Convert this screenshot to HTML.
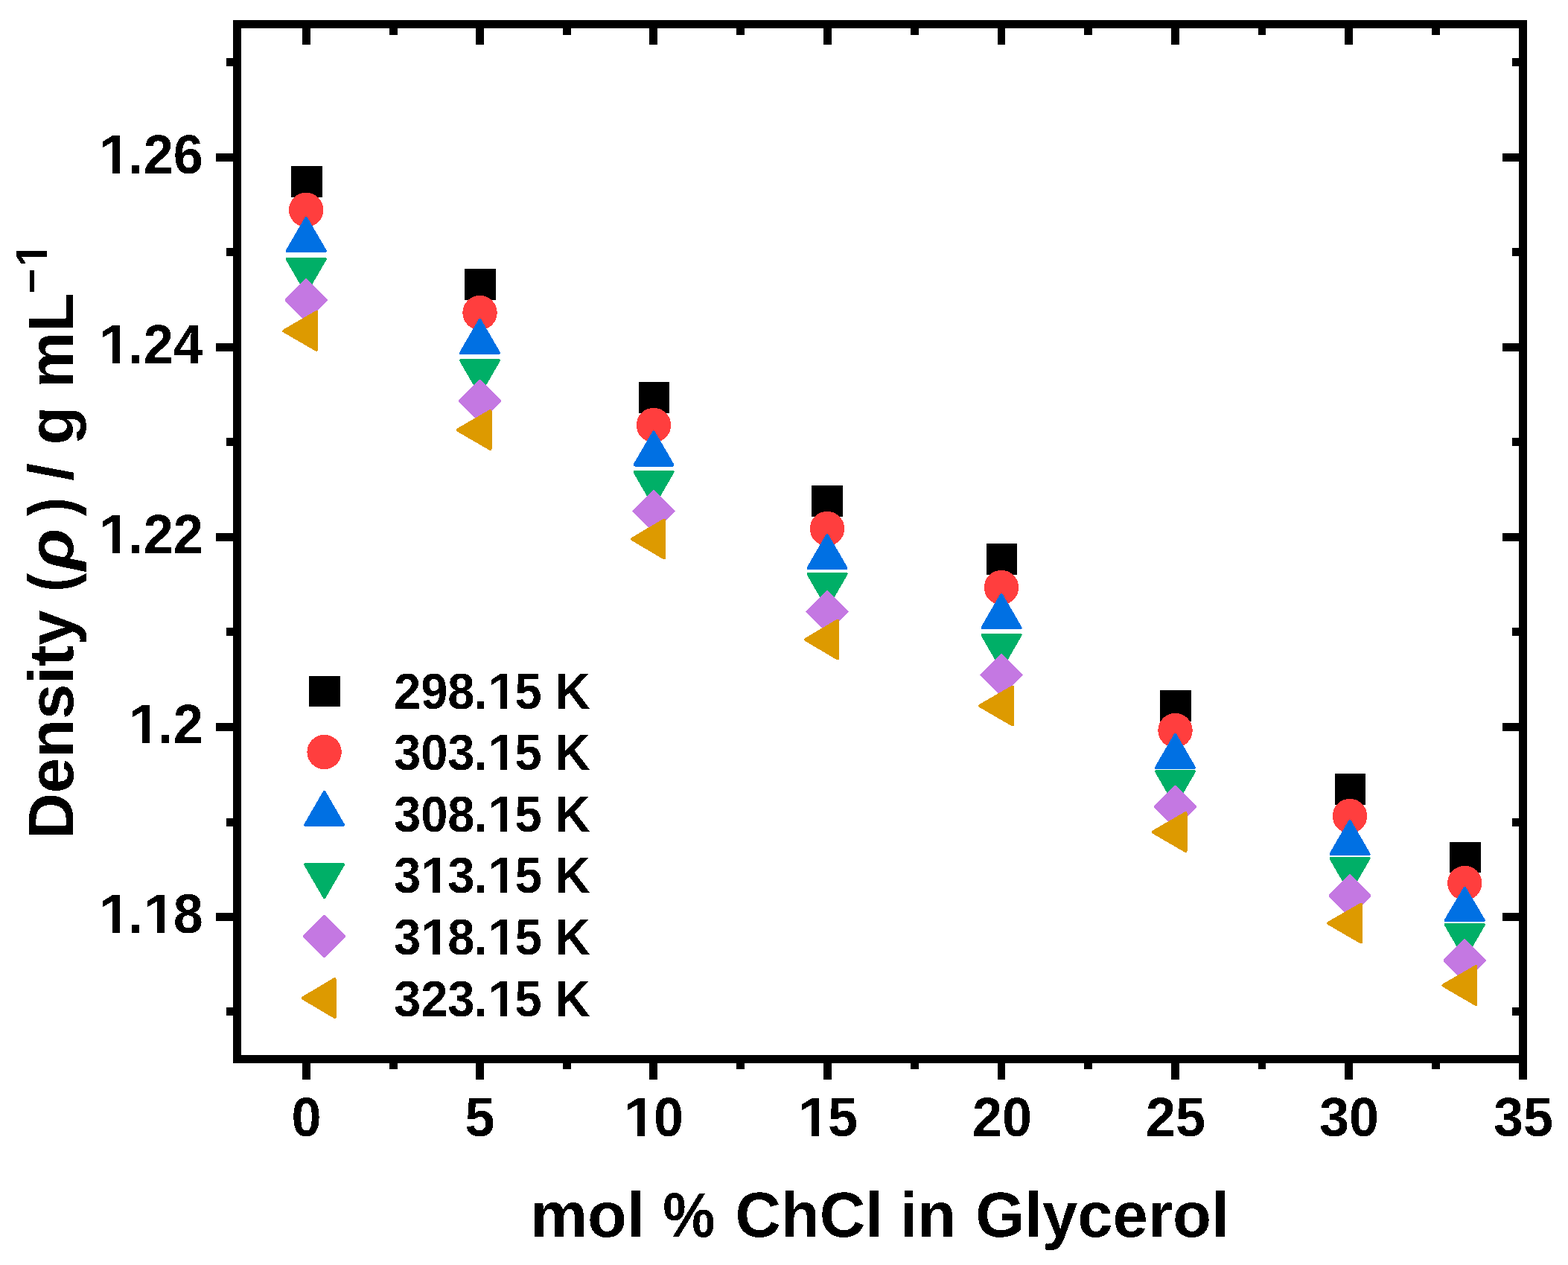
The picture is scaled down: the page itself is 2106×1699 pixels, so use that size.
<!DOCTYPE html>
<html lang="en"><head><meta charset="utf-8"><title>Density of ChCl in Glycerol mixtures</title>
<style>
html,body{margin:0;padding:0;background:#fff;}
body{width:2106px;height:1699px;overflow:hidden;}
svg{display:block;}
text{font-family:"Liberation Sans",sans-serif;font-weight:bold;fill:#000;white-space:pre;}
.tk{font-size:72px;}
.ti{font-size:85px;}
.lg{font-size:65px;}
.mk polygon{stroke-width:4;stroke-linejoin:round;}
.wm{fill:#fff;}
</style></head><body>
<svg width="2106" height="1699" viewBox="0 0 2106 1699" role="img" aria-label="Density versus mol % ChCl in Glycerol">
<rect x="0" y="0" width="2106" height="1699" fill="#fff"/>
<defs><filter id="bin" filterUnits="userSpaceOnUse" x="0" y="0" width="2106" height="1699" color-interpolation-filters="sRGB"><feComponentTransfer><feFuncR type="discrete" tableValues="0 1"/><feFuncG type="discrete" tableValues="0 1"/><feFuncB type="discrete" tableValues="0 1"/><feFuncA type="discrete" tableValues="0 1"/></feComponentTransfer></filter></defs>
<g id="markers" class="mk" shape-rendering="crispEdges">
<rect x="391" y="223" width="42" height="42" fill="#000000"/>
<rect x="624" y="361" width="42" height="42" fill="#000000"/>
<rect x="858" y="513" width="41" height="42" fill="#000000"/>
<rect x="1090" y="652" width="42" height="42" fill="#000000"/>
<rect x="1325" y="730" width="41" height="42" fill="#000000"/>
<rect x="1558" y="927" width="42" height="42" fill="#000000"/>
<rect x="1793" y="1039" width="41" height="42" fill="#000000"/>
<rect x="1947" y="1131" width="42" height="41" fill="#000000"/>
<circle cx="411.2" cy="281.8" r="23.2" fill="#FF3E3E"/>
<circle cx="644.5" cy="420" r="23.2" fill="#FF3E3E"/>
<circle cx="878" cy="571" r="23.2" fill="#FF3E3E"/>
<circle cx="1111" cy="710" r="23.2" fill="#FF3E3E"/>
<circle cx="1345" cy="789" r="23.2" fill="#FF3E3E"/>
<circle cx="1578.5" cy="981" r="23.2" fill="#FF3E3E"/>
<circle cx="1813" cy="1096" r="23.2" fill="#FF3E3E"/>
<circle cx="1967.3" cy="1186" r="23.2" fill="#FF3E3E"/>
<polygon points="411.2,293 436.7,337 385.7,337" fill="#0070E3" stroke="#0070E3"/>
<polygon points="644.5,430 670,474 619,474" fill="#0070E3" stroke="#0070E3"/>
<polygon points="878,580.5 903.5,624.5 852.5,624.5" fill="#0070E3" stroke="#0070E3"/>
<polygon points="1111,719 1136.5,763 1085.5,763" fill="#0070E3" stroke="#0070E3"/>
<polygon points="1345,799 1370.5,843 1319.5,843" fill="#0070E3" stroke="#0070E3"/>
<polygon points="1578.5,987 1604,1031 1553,1031" fill="#0070E3" stroke="#0070E3"/>
<polygon points="1813,1103 1838.5,1147 1787.5,1147" fill="#0070E3" stroke="#0070E3"/>
<polygon points="1967.3,1193 1992.8,1236 1941.8,1236" fill="#0070E3" stroke="#0070E3"/>
<polygon points="411.2,392 436.7,348 385.7,348" fill="#00AF67" stroke="#00AF67"/>
<polygon points="644.5,528 670,484 619,484" fill="#00AF67" stroke="#00AF67"/>
<polygon points="878,678 903.5,634 852.5,634" fill="#00AF67" stroke="#00AF67"/>
<polygon points="1111,815 1136.5,771 1085.5,771" fill="#00AF67" stroke="#00AF67"/>
<polygon points="1345,897 1370.5,853 1319.5,853" fill="#00AF67" stroke="#00AF67"/>
<polygon points="1578.5,1080 1604,1036 1553,1036" fill="#00AF67" stroke="#00AF67"/>
<polygon points="1813,1197 1838.5,1153 1787.5,1153" fill="#00AF67" stroke="#00AF67"/>
<polygon points="1967.3,1286 1992.8,1242 1941.8,1242" fill="#00AF67" stroke="#00AF67"/>
<polygon points="384.6,403 411.2,429.6 437.8,403 411.2,376.4" fill="#C478E2" stroke="#C478E2"/>
<polygon points="617.9,538.5 644.5,565.1 671.1,538.5 644.5,511.9" fill="#C478E2" stroke="#C478E2"/>
<polygon points="851.4,686.5 878,713.1 904.6,686.5 878,659.9" fill="#C478E2" stroke="#C478E2"/>
<polygon points="1084.4,821.5 1111,848.1 1137.6,821.5 1111,794.9" fill="#C478E2" stroke="#C478E2"/>
<polygon points="1318.4,906.5 1345,933.1 1371.6,906.5 1345,879.9" fill="#C478E2" stroke="#C478E2"/>
<polygon points="1551.9,1083.5 1578.5,1110.1 1605.1,1083.5 1578.5,1056.9" fill="#C478E2" stroke="#C478E2"/>
<polygon points="1786.4,1203 1813,1229.6 1839.6,1203 1813,1176.4" fill="#C478E2" stroke="#C478E2"/>
<polygon points="1940.7,1290 1967.3,1316.6 1993.9,1290 1967.3,1263.4" fill="#C478E2" stroke="#C478E2"/>
<polygon points="381.2,444.5 425.2,470 425.2,419" fill="#DD9A00" stroke="#DD9A00"/>
<polygon points="614.5,577.5 658.5,603 658.5,552" fill="#DD9A00" stroke="#DD9A00"/>
<polygon points="849,724 892,749.5 892,698.5" fill="#DD9A00" stroke="#DD9A00"/>
<polygon points="1082,859 1125,884.5 1125,833.5" fill="#DD9A00" stroke="#DD9A00"/>
<polygon points="1316,948 1360,973.5 1360,922.5" fill="#DD9A00" stroke="#DD9A00"/>
<polygon points="1548.5,1117.5 1592.5,1143 1592.5,1092" fill="#DD9A00" stroke="#DD9A00"/>
<polygon points="1784,1240 1828,1265.5 1828,1214.5" fill="#DD9A00" stroke="#DD9A00"/>
<polygon points="1938.3,1323.5 1982.3,1349 1982.3,1298" fill="#DD9A00" stroke="#DD9A00"/>
</g>
<g id="axes" fill="#000" shape-rendering="crispEdges">
<rect x="313" y="27" width="1738" height="11"/>
<rect x="313" y="1417" width="1738" height="11"/>
<rect x="313" y="27" width="11" height="1401"/>
<rect x="2040" y="27" width="11" height="1423"/>
<rect x="406" y="1428" width="11" height="22"/>
<rect x="406" y="38" width="11" height="22"/>
<rect x="523" y="1428" width="11" height="8"/>
<rect x="523" y="38" width="11" height="9"/>
<rect x="639" y="1428" width="11" height="22"/>
<rect x="639" y="38" width="11" height="22"/>
<rect x="756" y="1428" width="11" height="8"/>
<rect x="756" y="38" width="11" height="9"/>
<rect x="872" y="1428" width="11" height="22"/>
<rect x="872" y="38" width="11" height="22"/>
<rect x="989" y="1428" width="11" height="8"/>
<rect x="989" y="38" width="11" height="9"/>
<rect x="1106" y="1428" width="11" height="22"/>
<rect x="1106" y="38" width="11" height="22"/>
<rect x="1223" y="1428" width="11" height="8"/>
<rect x="1223" y="38" width="11" height="9"/>
<rect x="1340" y="1428" width="10" height="22"/>
<rect x="1340" y="38" width="10" height="22"/>
<rect x="1456" y="1428" width="11" height="8"/>
<rect x="1456" y="38" width="11" height="9"/>
<rect x="1573" y="1428" width="11" height="22"/>
<rect x="1573" y="38" width="11" height="22"/>
<rect x="1690" y="1428" width="10" height="8"/>
<rect x="1690" y="38" width="10" height="9"/>
<rect x="1806" y="1428" width="11" height="22"/>
<rect x="1806" y="38" width="11" height="22"/>
<rect x="1923" y="1428" width="11" height="8"/>
<rect x="1923" y="38" width="11" height="9"/>
<rect x="304" y="78" width="9" height="11"/>
<rect x="2031" y="78" width="9" height="11"/>
<rect x="290" y="206" width="23" height="11"/>
<rect x="2018" y="206" width="22" height="11"/>
<rect x="304" y="333" width="9" height="11"/>
<rect x="2031" y="333" width="9" height="11"/>
<rect x="290" y="461" width="23" height="11"/>
<rect x="2018" y="461" width="22" height="11"/>
<rect x="304" y="588" width="9" height="11"/>
<rect x="2031" y="588" width="9" height="11"/>
<rect x="290" y="716" width="23" height="11"/>
<rect x="2018" y="716" width="22" height="11"/>
<rect x="304" y="843" width="9" height="11"/>
<rect x="2031" y="843" width="9" height="11"/>
<rect x="290" y="971" width="23" height="11"/>
<rect x="2018" y="971" width="22" height="11"/>
<rect x="304" y="1099" width="9" height="11"/>
<rect x="2031" y="1099" width="9" height="11"/>
<rect x="290" y="1226" width="23" height="11"/>
<rect x="2018" y="1226" width="22" height="11"/>
<rect x="304" y="1353" width="9" height="11"/>
<rect x="2031" y="1353" width="9" height="11"/>
</g>
<g id="labels" filter="url(#bin)">
<g id="xticklabels">
<text class="tk" transform="translate(391.48,1526) scale(1,1.042)">0</text>
<text class="tk" transform="translate(624.48,1526) scale(1,1.042)">5</text>
<text class="tk" transform="translate(837.96,1526) scale(1,1.042)"><tspan textLength="42.45" lengthAdjust="spacingAndGlyphs">1</tspan><tspan dx="-2.4">0</tspan></text>
<text class="tk" transform="translate(1071.96,1526) scale(1,1.042)"><tspan textLength="42.45" lengthAdjust="spacingAndGlyphs">1</tspan><tspan dx="-2.4">5</tspan></text>
<text class="tk" transform="translate(1305.96,1526) scale(1,1.042)">20</text>
<text class="tk" transform="translate(1538.96,1526) scale(1,1.042)">25</text>
<text class="tk" transform="translate(1771.96,1526) scale(1,1.042)">30</text>
<text class="tk" transform="translate(2005.96,1526) scale(1,1.042)">35</text>
</g>
<g id="yticklabels">
<text class="tk" transform="translate(132.67,233) scale(1,1.042)"><tspan textLength="42.45" lengthAdjust="spacingAndGlyphs">1</tspan><tspan dx="-3.3">.</tspan><tspan dx="0.9">2</tspan>6</text>
<text class="tk" transform="translate(132.67,488) scale(1,1.042)"><tspan textLength="42.45" lengthAdjust="spacingAndGlyphs">1</tspan><tspan dx="-3.3">.</tspan><tspan dx="0.9">2</tspan>4</text>
<text class="tk" transform="translate(132.67,743) scale(1,1.042)"><tspan textLength="42.45" lengthAdjust="spacingAndGlyphs">1</tspan><tspan dx="-3.3">.</tspan><tspan dx="0.9">2</tspan>2</text>
<text class="tk" transform="translate(172.71,998) scale(1,1.042)"><tspan textLength="42.45" lengthAdjust="spacingAndGlyphs">1</tspan><tspan dx="-3.3">.</tspan><tspan dx="0.9">2</tspan></text>
<text class="tk" transform="translate(132.67,1253) scale(1,1.042)"><tspan textLength="42.45" lengthAdjust="spacingAndGlyphs">1</tspan><tspan dx="-3.3">.</tspan><tspan dx="0.9" textLength="42.45" lengthAdjust="spacingAndGlyphs">1</tspan><tspan dx="-2.4">8</tspan></text>
</g>
<text class="ti" y="1661"><tspan x="712.17" textLength="153.68" lengthAdjust="spacingAndGlyphs">mol</tspan><tspan> </tspan><tspan x="890.31" textLength="70.29" lengthAdjust="spacingAndGlyphs">%</tspan><tspan> </tspan><tspan x="987.41">ChCl </tspan><tspan x="1208.66">in </tspan><tspan x="1310.33">Glycerol</tspan></text>
<g transform="translate(98,0) rotate(-90)"><text class="ti"><tspan x="-1126.59" y="0">Density </tspan><tspan x="-794.73" y="0" textLength="24.91" lengthAdjust="spacingAndGlyphs">(</tspan><tspan x="-765.91" y="0" font-style="italic" textLength="56.1" lengthAdjust="spacingAndGlyphs">ρ</tspan><tspan x="-693.08" y="0" textLength="24.91" lengthAdjust="spacingAndGlyphs">)</tspan><tspan x="-660" y="0"> </tspan><tspan x="-645.71" y="0">/ </tspan><tspan x="-597.61" y="0">g </tspan><tspan x="-521.39" y="0">mL</tspan><tspan x="-394.69" y="-35.2" font-size="59">−</tspan><tspan x="-358.57" y="-35.2" font-size="59">1</tspan></text></g>
<g id="legend">
<text class="lg" transform="translate(529,952) scale(1,1.042)">298<tspan dx="-0.9">.</tspan><tspan dx="0.9" textLength="38.32" lengthAdjust="spacingAndGlyphs">1</tspan><tspan dx="-2.17">5</tspan> K</text>
<text class="lg" transform="translate(529,1034) scale(1,1.042)">303<tspan dx="-0.9">.</tspan><tspan dx="0.9" textLength="38.32" lengthAdjust="spacingAndGlyphs">1</tspan><tspan dx="-2.17">5</tspan> K</text>
<text class="lg" transform="translate(529,1117) scale(1,1.042)">308<tspan dx="-0.9">.</tspan><tspan dx="0.9" textLength="38.32" lengthAdjust="spacingAndGlyphs">1</tspan><tspan dx="-2.17">5</tspan> K</text>
<text class="lg" transform="translate(529,1199) scale(1,1.042)">3<tspan textLength="38.32" lengthAdjust="spacingAndGlyphs">1</tspan><tspan dx="-2.17">3</tspan><tspan dx="-0.9">.</tspan><tspan dx="0.9" textLength="38.32" lengthAdjust="spacingAndGlyphs">1</tspan><tspan dx="-2.17">5</tspan> K</text>
<text class="lg" transform="translate(529,1282) scale(1,1.042)">3<tspan textLength="38.32" lengthAdjust="spacingAndGlyphs">1</tspan><tspan dx="-2.17">8</tspan><tspan dx="-0.9">.</tspan><tspan dx="0.9" textLength="38.32" lengthAdjust="spacingAndGlyphs">1</tspan><tspan dx="-2.17">5</tspan> K</text>
<text class="lg" transform="translate(529,1365) scale(1,1.042)">323<tspan dx="-0.9">.</tspan><tspan dx="0.9" textLength="38.32" lengthAdjust="spacingAndGlyphs">1</tspan><tspan dx="-2.17">5</tspan> K</text>
</g>
<g class="wm" shape-rendering="crispEdges"><rect x="840" y="1516" width="16" height="12"/><rect x="866" y="1516" width="15" height="12"/><rect x="1074" y="1516" width="16" height="12"/><rect x="1100" y="1516" width="15" height="12"/><rect x="135" y="223" width="16" height="12"/><rect x="161" y="223" width="14" height="12"/><rect x="135" y="478" width="16" height="12"/><rect x="161" y="478" width="14" height="12"/><rect x="135" y="733" width="16" height="12"/><rect x="161" y="733" width="14" height="12"/><rect x="175" y="988" width="16" height="12"/><rect x="201" y="988" width="15" height="12"/><rect x="135" y="1243" width="16" height="12"/><rect x="161" y="1243" width="14" height="12"/><rect x="195" y="1243" width="16" height="12"/><rect x="221" y="1243" width="15" height="12"/><rect x="54" y="325" width="11" height="12"/><rect x="54" y="345" width="11" height="12"/><rect x="657" y="943" width="15" height="11"/><rect x="681" y="943" width="13" height="11"/><rect x="657" y="1025" width="15" height="11"/><rect x="681" y="1025" width="13" height="11"/><rect x="657" y="1108" width="15" height="11"/><rect x="681" y="1108" width="13" height="11"/><rect x="567" y="1190" width="14" height="11"/><rect x="591" y="1190" width="13" height="11"/><rect x="657" y="1190" width="15" height="11"/><rect x="681" y="1190" width="13" height="11"/><rect x="567" y="1273" width="14" height="11"/><rect x="591" y="1273" width="13" height="11"/><rect x="657" y="1273" width="15" height="11"/><rect x="681" y="1273" width="13" height="11"/><rect x="657" y="1356" width="15" height="11"/><rect x="681" y="1356" width="13" height="11"/></g>
</g>
<g id="legendmarkers" class="mk" shape-rendering="crispEdges">
<rect x="415" y="908" width="42" height="41" fill="#000000"/>
<circle cx="435.6" cy="1010" r="23.2" fill="#FF3E3E"/>
<polygon points="435.6,1064 461.1,1108 410.1,1108" fill="#0070E3" stroke="#0070E3"/>
<polygon points="435.6,1205 461.1,1161 410.1,1161" fill="#00AF67" stroke="#00AF67"/>
<polygon points="409,1257.5 435.6,1284.1 462.2,1257.5 435.6,1230.9" fill="#C478E2" stroke="#C478E2"/>
<polygon points="406.6,1340.5 449.6,1366 449.6,1315" fill="#DD9A00" stroke="#DD9A00"/>
</g>
</svg></body></html>
